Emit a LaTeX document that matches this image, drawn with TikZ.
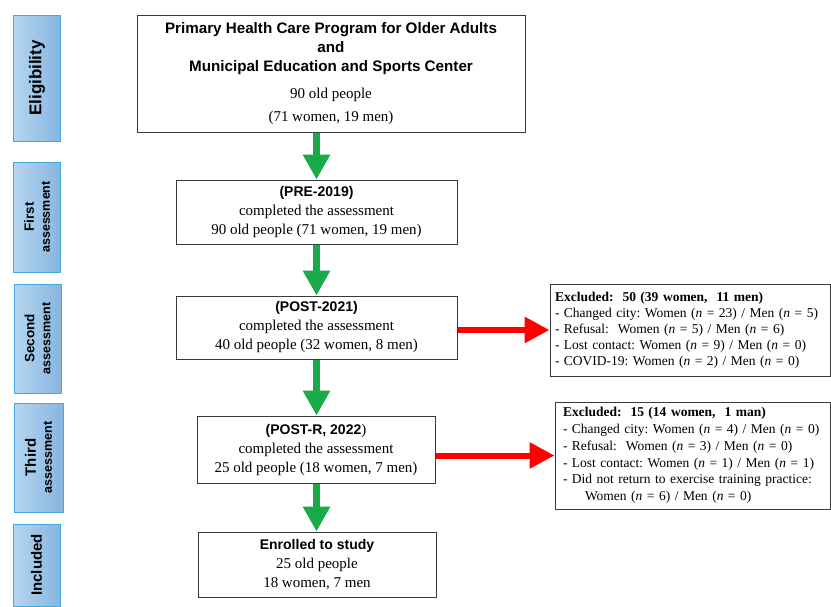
\documentclass[tikz,border=0pt]{standalone}
\usepackage{fontspec}
\setmainfont{Liberation Serif}
\setsansfont{Liberation Sans}
\usetikzlibrary{arrows.meta}
\definecolor{sidelight}{HTML}{B4D6F1}
\definecolor{sidedark}{HTML}{88B5DF}
\definecolor{sideline}{HTML}{45ABDD}
\definecolor{flowgreen}{HTML}{1BAA4A}
\definecolor{boxline}{HTML}{3A3A3A}
\newcommand{\boxtitle}[1]{{\sffamily\bfseries\fontsize{14}{18}\selectfont #1}}
\newcommand{\toptitle}[1]{{\sffamily\bfseries\fontsize{15.2}{18}\selectfont #1}}
\newcommand{\smallline}[1]{{\fontsize{12.5}{14}\selectfont #1}}
\newcommand{\nobreaks}{\frenchspacing\hyphenpenalty10000\relax}

\begin{document}
\begin{tikzpicture}[x=1pt,y=-1pt,
  stage/.style={draw=sideline,line width=1pt,rotate=90,left color=sidelight,right color=sidedark,
    minimum height=47pt,inner sep=0pt,align=center,font=\sffamily\bfseries\fontsize{13.5}{16}\selectfont},
  mainbox/.style={draw=boxline,line width=1pt,fill=white,align=center,inner sep=0pt,
    font=\fontsize{15}{19}\selectfont},
  exclbox/.style={draw=boxline,line width=1pt,fill=white,align=left,inner ysep=0pt,
    font=\fontsize{13.5}{16}\selectfont\nobreaks},
  flow/.style={draw=flowgreen,line width=6.5pt,-{Triangle[width=26pt,length=25pt]}},
  drop/.style={draw=red,line width=6pt,-{Triangle[width=25pt,length=25pt]}}]
  \useasboundingbox (0,0) rectangle (831,606);
  % stages on the left
  \node[stage,minimum width=126pt,font=\sffamily\bfseries\fontsize{17}{18}\selectfont] (elig) at (37,78) {Eligibility};
  \node[stage,minimum width=110pt] (first) at (37,217) {First\\\smallline{assessment}};
  \node[stage,minimum width=109pt] (second) at (37.5,338.5) {Second\\\smallline{assessment}};
  \node[stage,minimum width=109pt,minimum height=49pt,font=\sffamily\bfseries\fontsize{15}{16}\selectfont] (third) at (38.5,457.5) {Third\\\smallline{assessment}};
  \node[stage,minimum width=82pt,font=\sffamily\bfseries\fontsize{15}{16}\selectfont] (incl) at (36.5,565) {Included};
  % main boxes
  \node[mainbox,minimum width=388pt,minimum height=117pt] (program) at (331,73.5)
    {\toptitle{Primary Health Care Program for Older Adults}\\
     \toptitle{and}\\
     \toptitle{Municipal Education and Sports Center}\\[8pt]
     90 old people\\[4pt]
     (71 women, 19 men)};
  \node[mainbox,minimum width=281pt,minimum height=64pt] (pre) at (316.5,212)
    {\boxtitle{(PRE-2019)}\\ completed the assessment\\ 90 old people (71 women, 19 men)};
  \node[mainbox,minimum width=281pt,minimum height=63pt] (post) at (316.5,327.5)
    {\boxtitle{(POST-2021)}\\ completed the assessment\\ 40 old people (32 women, 8 men)};
  \node[mainbox,minimum width=238pt,minimum height=67pt] (postr) at (316,449.5)
    {\boxtitle{(POST-R, 2022})\\ completed the assessment\\ 25 old people (18 women, 7 men)};
  \node[mainbox,minimum width=238pt,minimum height=65pt] (enrolled) at (317,564.5)
    {\boxtitle{Enrolled to study}\\ 25 old people\\ 18 women, 7 men};
  % excluded boxes
  \node[exclbox,inner xsep=5pt,text width=270pt,minimum height=92pt] (excl1) at (690,330)
    {\textbf{Excluded: \ 50 (39 women, \ 11 men)}\\
     - Changed city: Women (\emph{n} = 23) / Men (\emph{n} = 5)\\
     - Refusal: \ Women (\emph{n} = 5) / Men (\emph{n} = 6)\\
     - Lost contact: Women (\emph{n} = 9) / Men (\emph{n} = 0)\\
     - COVID-19: Women (\emph{n} = 2) / Men (\emph{n} = 0)};
  \node[exclbox,inner xsep=8pt,text width=259pt,minimum height=107pt,
    font=\fontsize{13.5}{16.8}\selectfont\nobreaks] (excl2) at (692.5,455.5)
    {\textbf{Excluded: \ 15 (14 women, \ 1 man)}\\
     - Changed city: Women (\emph{n} = 4) / Men (\emph{n} = 0)\\
     - Refusal: \ Women (\emph{n} = 3) / Men (\emph{n} = 0)\\
     - Lost contact: Women (\emph{n} = 1) / Men (\emph{n} = 1)\\
     - Did not return to exercise training practice:\\
     \hspace*{22pt}Women (\emph{n} = 6) / Men (\emph{n} = 0)};
  % arrows
  \draw[flow] (program.south -| pre.north) -- (pre.north);
  \draw[flow] (pre.south) -- (post.north);
  \draw[flow] (post.south) -- (post.south |- postr.north);
  \draw[flow] (post.south |- postr.south) -- (post.south |- enrolled.north);
  \draw[drop] (post.east |- excl1.west) -- (excl1.west);
  \draw[drop] (postr.east |- excl2.west) -- (excl2.west);
\end{tikzpicture}
\end{document}
